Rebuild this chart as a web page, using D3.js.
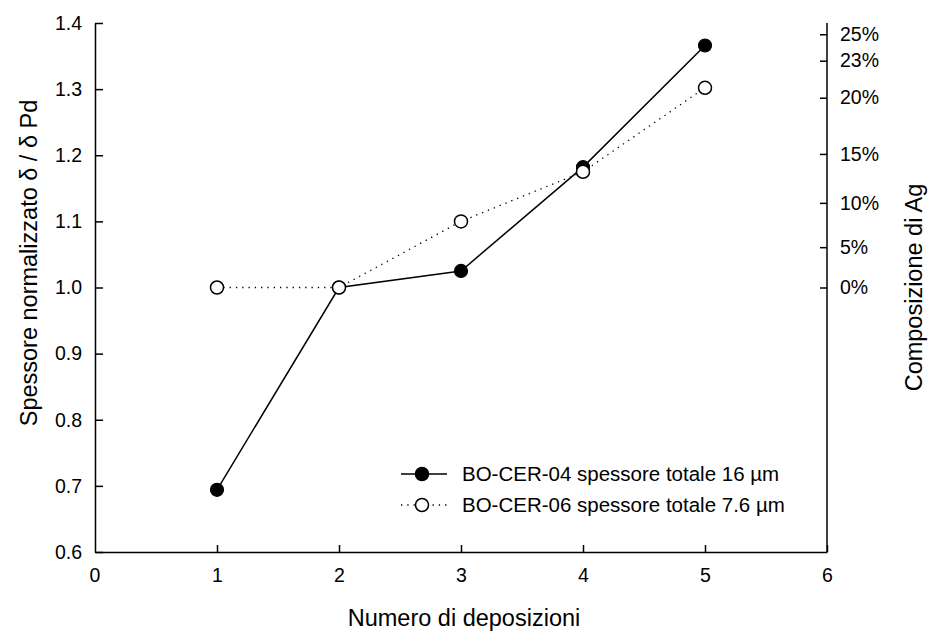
<!DOCTYPE html>
<html>
<head>
<meta charset="utf-8">
<script src="https://cdn.jsdelivr.net/npm/d3@7"></script>
<style>
  html, body { margin: 0; padding: 0; background: #fff; }
  svg { display: block; font-family: "Liberation Sans", Arial, sans-serif; }
</style>
</head>
<body>
<svg id="chart" width="932" height="632"></svg>
<script>
// Deposition number on the x axis
const depositions = [1, 2, 3, 4, 5];
// Normalised thickness δ / δPd for each sample
const cer04 = [0.694, 1.0, 1.025, 1.182, 1.366];
const cer06 = [1.0, 1.0, 1.10, 1.175, 1.302];
const seriesNames = ["BO-CER-04 spessore totale 16 \u00b5m", "BO-CER-06 spessore totale 7.6 \u00b5m"];

// Axis ticks
const xTicks = [0, 1, 2, 3, 4, 5, 6];
const yTicks = [0.6, 0.7, 0.8, 0.9, 1.0, 1.1, 1.2, 1.3, 1.4];
// Ag composition labels on the right axis, placed at the matching normalised thickness
const agLabels = ["0%", "5%", "10%", "15%", "20%", "23%", "25%"];
const agAt = [1.0, 1.061, 1.128, 1.202, 1.287, 1.343, 1.383];

const svg = d3.select("#chart");
const x = d3.scaleLinear().domain([0, 6]).range([95, 827]);
const y = d3.scaleLinear().domain([0.6, 1.4]).range([552, 23]);

const tickFont = 19.5;
const titleFont = 23.5;

// Left axis
const left = svg.append("g").attr("transform", `translate(${x(0)},0)`)
  .call(d3.axisLeft(y).tickValues(yTicks).tickFormat(d3.format(".1f")).tickSizeInner(-8).tickSizeOuter(0).tickPadding(13));
// Bottom axis
const bottom = svg.append("g").attr("transform", `translate(0,${y(0.6)})`)
  .call(d3.axisBottom(x).tickValues(xTicks.filter(d => d > 0)).tickFormat(d3.format("d")).tickSizeInner(-7).tickSizeOuter(0).tickPadding(16));
bottom.append("text").attr("x", x(0)).attr("y", 16).attr("dy", "0.71em")
  .attr("text-anchor", "middle").attr("fill", "#000").text("0");
// Right axis
const right = svg.append("g").attr("transform", `translate(${x(6)},0)`)
  .call(d3.axisRight(y).tickValues(agAt).tickFormat((d, i) => agLabels[i]).tickSizeInner(-7).tickSizeOuter(0).tickPadding(13));

[left, bottom, right].forEach(g => {
  g.select(".domain").attr("stroke", "#000").attr("stroke-width", 1.5);
  g.selectAll(".tick line").attr("stroke", "#000").attr("stroke-width", 1.5);
  g.selectAll("text").attr("font-size", tickFont).attr("font-family", "Liberation Sans, Arial, sans-serif").attr("fill", "#000");
});
right.select(".domain").attr("d", `M0,${y(1.4)}V${y(0.6)}`);

// Series lines
const line = d3.line().x((d, i) => x(depositions[i])).y(d => y(d));
svg.append("path").datum(cer06).attr("d", line).attr("fill", "none")
  .attr("stroke", "#000").attr("stroke-width", 1.3).attr("stroke-dasharray", "1.3,5");
svg.append("path").datum(cer04).attr("d", line).attr("fill", "none")
  .attr("stroke", "#000").attr("stroke-width", 1.5);

// Markers
svg.selectAll("circle.c04").data(cer04).join("circle").attr("class", "c04")
  .attr("cx", (d, i) => x(depositions[i])).attr("cy", d => y(d)).attr("r", 6.5)
  .attr("fill", "#000").attr("stroke", "#000").attr("stroke-width", 1.2);
svg.selectAll("circle.c06").data(cer06).join("circle").attr("class", "c06")
  .attr("cx", (d, i) => x(depositions[i])).attr("cy", d => y(d)).attr("r", 6.5)
  .attr("fill", "#fff").attr("stroke", "#000").attr("stroke-width", 1.5);

// Legend
const legend = svg.append("g").attr("transform", "translate(401,474)");
const styles = [
  { dash: null, fill: "#000", w: 1.5 },
  { dash: "1.3,5", fill: "#fff", w: 1.3 }
];
seriesNames.forEach((name, i) => {
  const row = legend.append("g").attr("transform", `translate(0,${i * 31})`);
  row.append("line").attr("x1", 0).attr("x2", 46).attr("y1", 0).attr("y2", 0)
    .attr("stroke", "#000").attr("stroke-width", styles[i].w)
    .attr("stroke-dasharray", styles[i].dash);
  row.append("circle").attr("cx", 21).attr("cy", 0).attr("r", 6.5)
    .attr("fill", styles[i].fill).attr("stroke", "#000").attr("stroke-width", 1.5);
  row.append("text").attr("x", 61).attr("y", 7).attr("font-size", 20.5).attr("fill", "#000").text(name);
});

// Axis titles
svg.append("text").attr("x", 464).attr("y", 626).attr("text-anchor", "middle")
  .attr("font-size", titleFont).text("Numero di deposizioni");
svg.append("text").attr("transform", "translate(37,263) rotate(-90)")
  .attr("text-anchor", "middle").attr("font-size", titleFont).text("Spessore normalizzato \u03b4 / \u03b4 Pd");
svg.append("text").attr("transform", `translate(922,${y(1.0)}) rotate(-90)`)
  .attr("text-anchor", "middle").attr("font-size", titleFont).text("Composizione di Ag");
</script>
</body>
</html>
